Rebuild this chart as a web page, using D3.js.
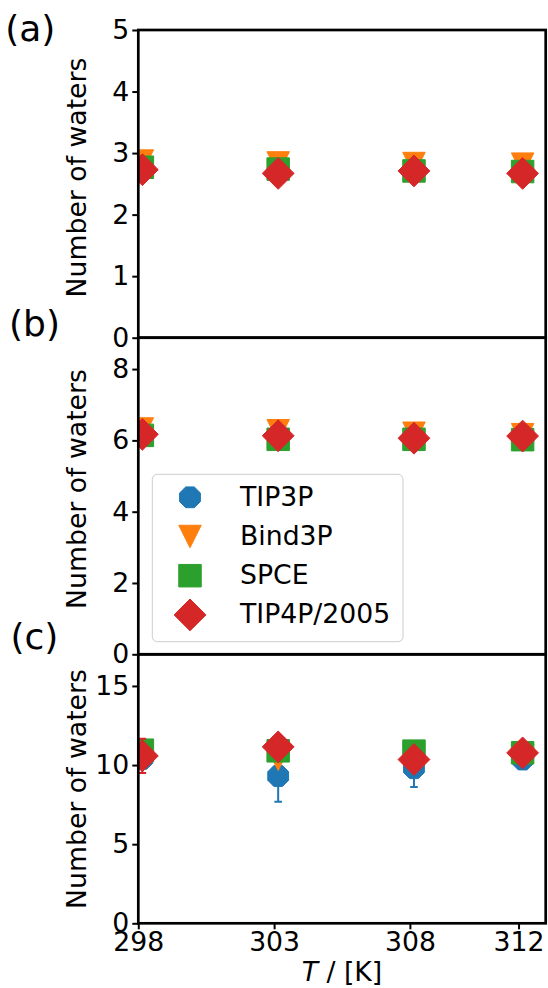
<!DOCTYPE html>
<html>
<head>
<meta charset="utf-8">
<script src="https://cdn.jsdelivr.net/npm/d3@7"></script>
<style>
body { margin: 0; background: #fff; }
text { font-family: "DejaVu Sans", sans-serif; }
</style>
</head>
<body>
<svg id="chart" width="548" height="988"></svg>
<script>
// temperatures of the runs, tick labels on the x axis
const temps = [298.15, 303.15, 308.15, 312.15];
const xTickValues = [298, 303, 308, 312];
const models = ['TIP3P', 'Bind3P', 'SPCE', 'TIP4P/2005'];
const colors = ['#1f77b4', '#ff7f0e', '#2ca02c', '#d62728'];
const panelLabels = ['(a)', '(b)', '(c)'];
const yMax = [5, 8.88, 17];
const yTicksA = [0, 1, 2, 3, 4, 5];
const yTicksB = [0, 2, 4, 6, 8];
const yTicksC = [0, 5, 10, 15];

// (a)
const aTIP3P = [2.72, 2.68, 2.70, 2.68];
const aBind3P = [2.87, 2.84, 2.83, 2.82];
const aSPCE = [2.77, 2.74, 2.71, 2.70];
const aTIP4P = [2.73, 2.67, 2.71, 2.67];
// (b)
const bTIP3P = [6.15, 6.10, 6.05, 6.08];
const bBind3P = [6.32, 6.27, 6.20, 6.16];
const bSPCE = [6.14, 6.03, 6.03, 6.02];
const bTIP4P = [6.17, 6.13, 6.06, 6.12];
// (c)
const cTIP3P = [10.39, 9.31, 9.80, 10.35];
const cTIP3PErr = [0.5, 1.63, 1.18, 0.4];
const cBind3P = [10.6, 10.36, 10.5, 10.6];
const cSPCE = [10.94, 10.90, 10.88, 10.78];
const cTIP4P = [10.58, 11.15, 10.35, 10.77];
const cTIP4PErr = [1.08, 0.5, 0.4, 0.4];

const panels = [
    {label: panelLabels[0], top: 30, bottom: 337.7, ymax: yMax[0], ticks: yTicksA,
     values: [aTIP3P, aBind3P, aSPCE, aTIP4P], errs: [null, null, null, null], labelX: 5.2, labelY: 41, ylabelY: 177.5},
    {label: panelLabels[1], top: 337.7, bottom: 654.3, ymax: yMax[1], ticks: yTicksB,
     values: [bTIP3P, bBind3P, bSPCE, bTIP4P], errs: [null, null, null, null], labelX: 9, labelY: 336, ylabelY: 489},
    {label: panelLabels[2], top: 654.3, bottom: 923.3, ymax: yMax[2], ticks: yTicksC,
     values: [cTIP3P, cBind3P, cSPCE, cTIP4P], errs: [cTIP3PErr, null, null, cTIP4PErr], labelX: 10.5, labelY: 649, ylabelY: 789}
];

const fontSize = 26.7;
const ms = 22.5;
const x0 = 138.3, x1 = 545.7;

// marker paths, centred at 0,0
const h = ms / 2;
const shapes = [
    () => d3.range(8).map(k => {
        const a = (22.5 + 45 * k) * Math.PI / 180;
        return [h * Math.cos(a), h * Math.sin(a)];
    }).map((p, i) => (i ? 'L' : 'M') + p[0] + ',' + p[1]).join('') + 'Z',
    () => `M${-h},${-h}L${h},${-h}L0,${h}Z`,
    () => `M${-h},${-h}L${h},${-h}L${h},${h}L${-h},${h}Z`,
    () => { const d = ms / Math.SQRT2; return `M0,${-d}L${d},0L0,${d}L${-d},0Z`; }
];

const svg = d3.select('#chart');
const x = d3.scaleLinear().domain([298, 313]).range([x0, x1]);

panels.forEach((p, pi) => {
    const y = d3.scaleLinear().domain([0, p.ymax]).range([p.bottom, p.top]);
    const clipId = 'clip' + pi;
    svg.append('clipPath').attr('id', clipId)
        .append('rect')
        .attr('x', x0).attr('y', p.top)
        .attr('width', x1 - x0).attr('height', p.bottom - p.top);

    const plot = svg.append('g').attr('clip-path', `url(#${clipId})`);

    p.values.forEach((vals, si) => {
        const err = p.errs[si];
        const g = plot.append('g');
        if (err) {
            const eb = g.selectAll('g.err')
                .data(vals.map((v, i) => ({t: temps[i], v, e: err[i]})))
                .enter().append('g').classed('err', true)
                .attr('stroke', colors[si]).attr('stroke-width', 2);
            eb.append('line')
                .attr('x1', d => x(d.t)).attr('x2', d => x(d.t))
                .attr('y1', d => y(d.v - d.e)).attr('y2', d => y(d.v + d.e));
            [-1, 1].forEach(s => {
                eb.append('line')
                    .attr('x1', d => x(d.t) - 3.8).attr('x2', d => x(d.t) + 3.8)
                    .attr('y1', d => y(d.v + s * d.e)).attr('y2', d => y(d.v + s * d.e));
            });
        }
        g.selectAll('path.mk')
            .data(vals.map((v, i) => ({t: temps[i], v})))
            .enter().append('path').classed('mk', true)
            .attr('d', shapes[si]())
            .attr('transform', d => `translate(${x(d.t)},${y(d.v)})`)
            .attr('fill', colors[si])
            .attr('stroke', colors[si])
            .attr('stroke-width', 1);
    });

    // y axis
    const ya = svg.append('g')
        .attr('transform', `translate(${x0},0)`)
        .call(d3.axisLeft(y).tickValues(p.ticks).tickFormat(d3.format('d')).tickSize(6).tickPadding(3));
    ya.select('.domain').remove();
    ya.selectAll('line').attr('stroke', '#000').attr('stroke-width', 2);
    ya.selectAll('text').attr('font-size', fontSize).attr('fill', '#000')
        .style('font-family', '"DejaVu Sans", sans-serif');

    if (pi === 2) {
        const xa = svg.append('g')
            .attr('transform', `translate(0,${p.bottom})`)
            .call(d3.axisBottom(x).tickValues(xTickValues).tickFormat(d3.format('d')).tickSize(6).tickPadding(2.5));
        xa.select('.domain').remove();
        xa.selectAll('line').attr('stroke', '#000').attr('stroke-width', 2);
        xa.selectAll('text').attr('font-size', fontSize).attr('fill', '#000')
            .style('font-family', '"DejaVu Sans", sans-serif');
    }

    // frame
    svg.append('rect')
        .attr('x', x0).attr('y', p.top)
        .attr('width', x1 - x0).attr('height', p.bottom - p.top)
        .attr('fill', 'none').attr('stroke', '#000').attr('stroke-width', 2.7);

    svg.append('text')
        .attr('transform', `translate(85.6,${p.ylabelY}) rotate(-90)`)
        .attr('text-anchor', 'middle')
        .attr('font-size', fontSize)
        .text('Number of waters');

    svg.append('text')
        .attr('x', p.labelX).attr('y', p.labelY)
        .attr('font-size', 36)
        .text(p.label);
});

// x label
const xl = svg.append('text')
    .attr('x', (x0 + x1) / 2).attr('y', 981)
    .attr('text-anchor', 'middle')
    .attr('font-size', fontSize);
xl.append('tspan').attr('font-style', 'italic').text('T');
xl.append('tspan').text(' / [K]');

// legend in panel (b)
const legend = svg.append('g');
legend.append('rect')
    .attr('x', 152.3).attr('y', 474.3)
    .attr('width', 250.7).attr('height', 167.4)
    .attr('rx', 5)
    .attr('fill', '#fff').attr('fill-opacity', 0.8)
    .attr('stroke', '#cccccc').attr('stroke-width', 1);

const rows = legend.selectAll('g.row')
    .data(models)
    .enter().append('g').classed('row', true)
    .attr('transform', (d, i) => `translate(0,${497.3 + i * 39.2})`);
rows.append('path')
    .attr('d', (d, i) => shapes[i]())
    .attr('transform', 'translate(190,0)')
    .attr('fill', (d, i) => colors[i])
    .attr('stroke', (d, i) => colors[i])
    .attr('stroke-width', 1);
rows.append('text')
    .attr('x', 240).attr('y', 8.5)
    .attr('font-size', fontSize)
    .text(d => d);
</script>
</body>
</html>
